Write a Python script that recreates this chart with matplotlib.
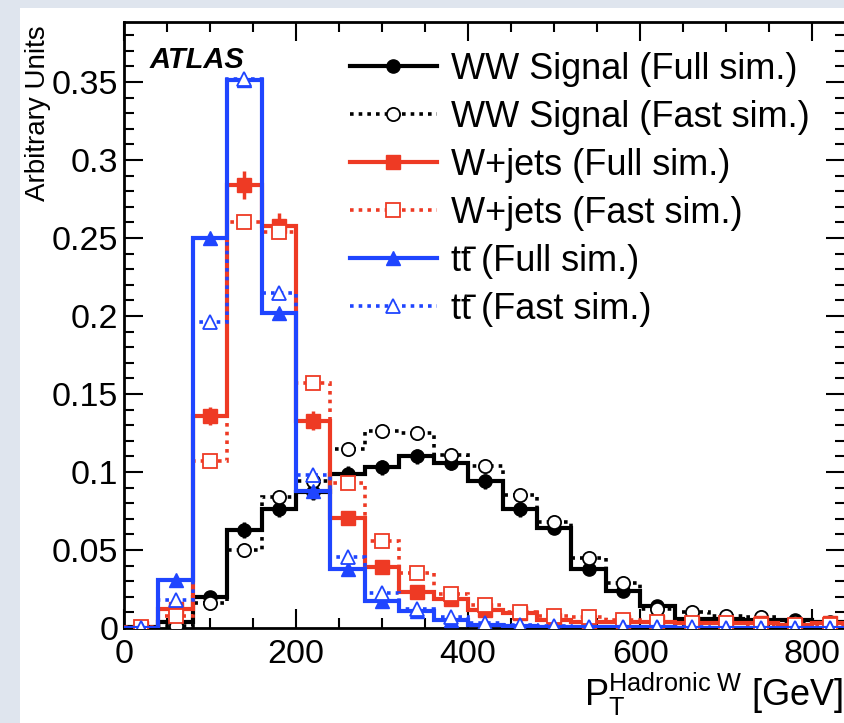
import numpy as np
import matplotlib
matplotlib.use("Agg")
import matplotlib.pyplot as plt
from matplotlib.patches import Rectangle
from matplotlib.lines import Line2D
from matplotlib.ticker import MultipleLocator, FuncFormatter

plt.rcParams["font.family"] = ["Liberation Sans", "DejaVu Sans"]
plt.rcParams["mathtext.fontset"] = "custom"
plt.rcParams["mathtext.rm"] = "Liberation Sans"
plt.rcParams["mathtext.it"] = "Liberation Sans:italic"

# 40 GeV bins, 0 - 840 GeV
bin_edges = np.arange(0, 841, 40)

ww_full = [0.0005, 0.004, 0.020, 0.063, 0.076, 0.087, 0.099, 0.103, 0.110, 0.106, 0.094,
           0.076, 0.064, 0.038, 0.024, 0.014, 0.006, 0.006, 0.005, 0.005, 0.004]
ww_fast = [0.0, 0.001, 0.016, 0.050, 0.084, 0.094, 0.115, 0.126, 0.125, 0.111, 0.104,
           0.085, 0.068, 0.045, 0.029, 0.012, 0.010, 0.008, 0.007, 0.004, 0.003]
wj_full = [0.0, 0.012, 0.136, 0.284, 0.258, 0.133, 0.0705, 0.039, 0.023, 0.0185, 0.0115,
           0.0095, 0.005, 0.004, 0.004, 0.004, 0.003, 0.003, 0.003, 0.002, 0.003]
wj_fast = [0.0005, 0.008, 0.107, 0.260, 0.254, 0.157, 0.093, 0.056, 0.035, 0.022, 0.015,
           0.010, 0.008, 0.007, 0.005, 0.004, 0.003, 0.003, 0.002, 0.002, 0.002]
tt_full = [0.0, 0.031, 0.250, 0.351, 0.202, 0.088, 0.038, 0.017, 0.011, 0.005, 0.002,
           0.001, 0.0008, 0.0006, 0.0005, 0.0004, 0.0003, 0.0003, 0.0002, 0.0002, 0.0002]
tt_fast = [0.0, 0.018, 0.196, 0.352, 0.215, 0.098, 0.0455, 0.0225, 0.012, 0.007, 0.003,
           0.002, 0.001, 0.0008, 0.0006, 0.0005, 0.0004, 0.0003, 0.0003, 0.0002, 0.0002]

ww_full_err = [0.001, 0.002, 0.004, 0.005, 0.005, 0.005, 0.005, 0.005, 0.005, 0.005, 0.005,
               0.005, 0.004, 0.004, 0.003, 0.002, 0.002, 0.002, 0.001, 0.001, 0.001]
ww_fast_err = [0.001, 0.001, 0.002, 0.003, 0.003, 0.003, 0.003, 0.003, 0.003, 0.003, 0.003,
               0.003, 0.003, 0.002, 0.002, 0.002, 0.001, 0.001, 0.001, 0.001, 0.001]
wj_full_err = [0.001, 0.003, 0.006, 0.009, 0.008, 0.006, 0.004, 0.003, 0.002, 0.002, 0.002,
               0.001, 0.001, 0.001, 0.001, 0.001, 0.001, 0.001, 0.001, 0.001, 0.001]
wj_fast_err = [0.001, 0.002, 0.003, 0.003, 0.003, 0.003, 0.002, 0.002, 0.002, 0.001, 0.001,
               0.001, 0.001, 0.001, 0.001, 0.001, 0.001, 0.001, 0.001, 0.001, 0.001]

labels = ["WW Signal (Full sim.)", "WW Signal (Fast sim.)",
          "W+jets (Full sim.)", "W+jets (Fast sim.)",
          "tt\u0304 (Full sim.)", "tt\u0304 (Fast sim.)"]

BLACK = "#000000"
RED = "#ee3a24"
BLUE = "#1f45ff"
DOT = (0, (1.0, 1.4))

W, H = 844, 723
fig = plt.figure(figsize=(W / 100, H / 100), dpi=100)
fig.patch.set_facecolor("#dfe5ee")
fig.patches.append(Rectangle((20 / W, 0), 1, 1 - 8 / H, transform=fig.transFigure,
                             facecolor="white", edgecolor="none", zorder=-5))

ax = fig.add_axes([124 / W, 95 / H, 721 / W, 606 / H])
ax.set_facecolor("white")

centers = 0.5 * (bin_edges[:-1] + bin_edges[1:])

series = [
    (ww_full, ww_full_err, BLACK, "-", "o", True),
    (ww_fast, ww_fast_err, BLACK, DOT, "o", False),
    (wj_full, wj_full_err, RED, "-", "s", True),
    (wj_fast, wj_fast_err, RED, DOT, "s", False),
    (tt_full, None, BLUE, "-", "^", True),
    (tt_fast, None, BLUE, DOT, "^", False),
]

handles = []
for i, (vals, err, col, ls, mk, full) in enumerate(series):
    z = 2 + i
    ax.stairs(vals, bin_edges, color=col, linestyle=ls, linewidth=3.0 if full else 2.6,
              baseline=None, zorder=z)
    if full:
        ax.errorbar(centers, vals, yerr=err, fmt=mk, color=col, markersize=9.5,
                    elinewidth=2.5, capsize=0, zorder=z + 0.5)
        h = Line2D([], [], color=col, linestyle=ls, linewidth=3.0, marker=mk, markersize=9.5)
    else:
        ax.errorbar(centers, vals, yerr=err, fmt=mk, color=col, markersize=9.5,
                    markerfacecolor="white", markeredgewidth=1.3, elinewidth=1.5,
                    capsize=0, zorder=z + 0.5)
        h = Line2D([], [], color=col, linestyle=ls, linewidth=2.6, marker=mk, markersize=9.5,
                   markerfacecolor="white", markeredgewidth=1.3)
    handles.append(h)

ax.set_xlim(0, 838)
ax.set_ylim(0, 0.3885)

ax.xaxis.set_major_locator(MultipleLocator(200))
ax.xaxis.set_minor_locator(MultipleLocator(50))
ax.yaxis.set_major_locator(MultipleLocator(0.05))
ax.yaxis.set_minor_locator(MultipleLocator(0.01))
ax.yaxis.set_major_formatter(FuncFormatter(lambda v, p: "%g" % round(v, 3)))

ax.tick_params(which="both", direction="in", top=True, right=True, width=1.5)
ax.tick_params(which="major", length=14, labelsize=24.5)
ax.tick_params(which="minor", length=7)
ax.tick_params(axis="x", pad=8)
ax.tick_params(axis="y", pad=4)
for sp in ax.spines.values():
    sp.set_linewidth(2)

fig.text(38 / W, 1 - 25 / H, "Arbitrary Units", rotation=90, ha="center", va="top",
         fontsize=20)
fig.text(843 / W, 1 - 706 / H, r"P$_{\mathrm{T}}^{\mathrm{Hadronic\ W}}$ [GeV]",
         ha="right", va="baseline", fontsize=26)
ax.text(150 / W, 1 - 68 / H, "ATLAS", transform=fig.transFigure, fontsize=21,
        fontweight="bold", fontstyle="italic", va="baseline", ha="left")

ax.legend(handles, labels, loc="upper left", bbox_to_anchor=(350 / W, 1 - 52 / H),
          bbox_transform=fig.transFigure, frameon=False, fontsize=26, handlelength=2.4,
          handletextpad=0.4, labelspacing=0.36, borderpad=0, borderaxespad=0)

fig.savefig("out.png", dpi=100)
